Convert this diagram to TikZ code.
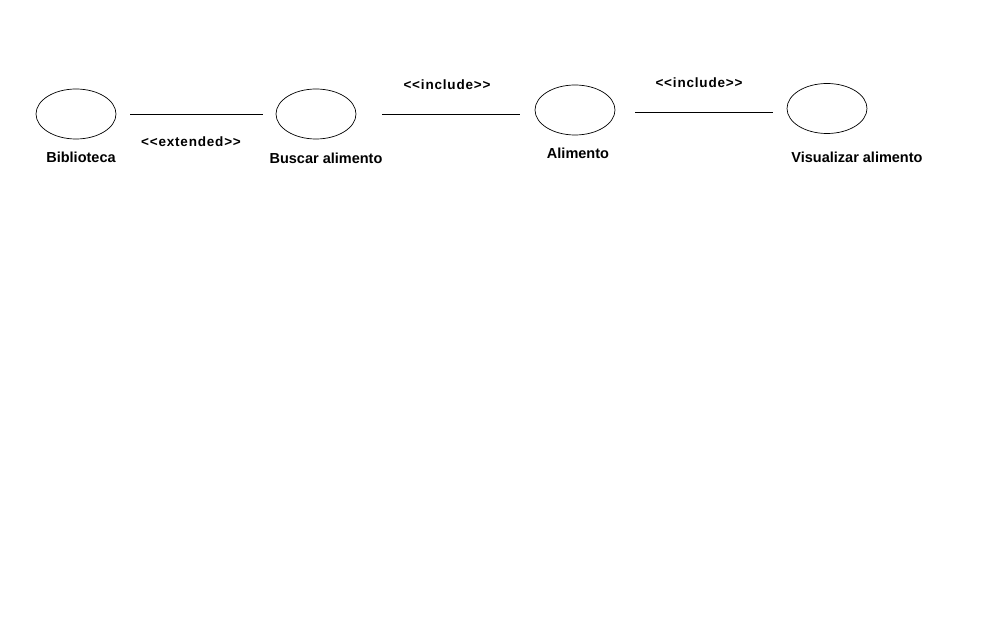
\documentclass[tikz,border=0pt]{standalone}
\usepackage{fontspec}
\setmainfont{Liberation Sans}
\newfontfamily\stereofont[LetterSpace=6]{Liberation Sans}
\usetikzlibrary{shapes.geometric}
\begin{document}
\begin{tikzpicture}[x=1pt,y=1pt,
  usecase/.style={draw,ellipse,minimum width=80pt,minimum height=50pt,inner sep=0pt,line width=0.7pt},
  caption/.style={font=\fontsize{14.5}{16}\selectfont\bfseries,inner sep=0pt},
  stereo/.style={font=\stereofont\fontsize{13.5}{15}\selectfont\bfseries,inner sep=0pt},
  link/.style={line width=0.8pt}]
  \useasboundingbox[fill=white] (0,0) rectangle (990,638);
  % use cases (y measured from the bottom edge)
  \node[usecase] (bib) at (76,524) {};
  \node[usecase] (bus) at (316,524) {};
  \node[usecase] (ali) at (575,528) {};
  \node[usecase] (vis) at (827,529.5) {};
  % captions
  \node[caption] (tbib) at (81,481) {Biblioteca};
  \node[caption] (tbus) at (326,480) {Buscar alimento};
  \node[caption] (tali) at (578,485) {Alimento};
  \node[caption] (tvis) at (857,481) {Visualizar alimento};
  % stereotypes (braces keep the angle brackets apart)
  \node[stereo] (sext) at (191,496) {{<}{<}extended{>}{>}};
  \node[stereo] (sinc1) at (447,553) {{<}{<}include{>}{>}};
  \node[stereo] (sinc2) at (699,555) {{<}{<}include{>}{>}};
  % connectors
  \draw[link] ([xshift=14pt]bib.east) -- ([xshift=-13pt]bus.west);
  \draw[link] ([xshift=26pt]bus.east) -- ([xshift=-15pt]bus.east -| ali.west);
  \draw[link] ([xshift=20pt,yshift=-2pt]ali.east) -- ([xshift=-14pt,yshift=-2pt]ali.east -| vis.west);
\end{tikzpicture}
\end{document}
